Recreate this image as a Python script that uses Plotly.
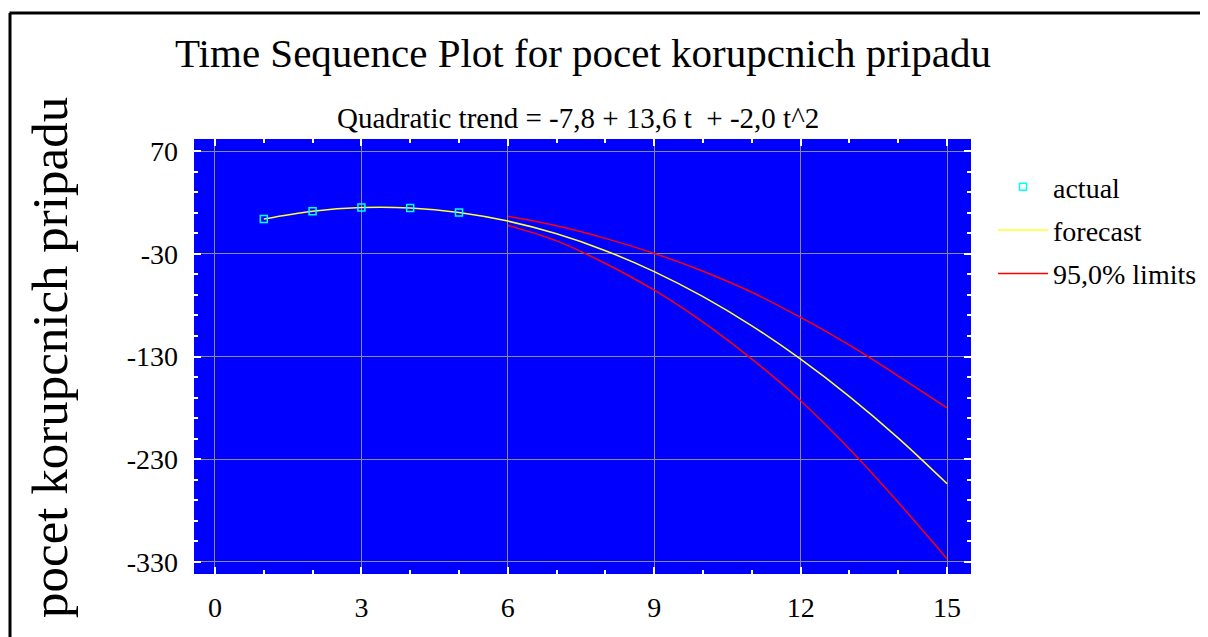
import plotly.graph_objects as go

# Data
t_actual = [1, 2, 3, 4, 5]
actual = [3.8, 11.4, 15.0, 14.6, 10.2]

t_forecast = [1, 2, 3, 4, 5, 6, 7, 8, 9, 10, 11, 12, 13, 14, 15]
forecast = [3.8, 11.4, 15.0, 14.6, 10.2, 1.8, -10.6, -27.0, -47.4, -71.8,
            -100.2, -132.6, -169.0, -209.4, -253.8]

t_limits = [6, 7, 8, 9, 10, 11, 12, 13, 14, 15]
upper = [6.5, -2.8, -15.0, -29.6, -47.0, -67.5, -92.0, -119.0, -149.0, -180.0]
lower = [-2.5, -17.5, -39.5, -65.5, -96.5, -132.5, -173.0, -220.0, -272.0, -327.0]

x_ticks = [0, 3, 6, 9, 12, 15]
y_ticks = [70, -30, -130, -230, -330]

title_text = "Time Sequence Plot for pocet korupcnich pripadu"
subtitle_text = "Quadratic trend = -7,8 + 13,6 t  + -2,0 t^2"
y_title = "pocet korupcnich pripadu"

FONT = "Liberation Serif, Times New Roman, serif"

# page offset (body margin) compensated in margins: plot area at page x 193..970, y 138..573
FW, FH = 1208, 637
L, T, W, H = 186, 131, 777, 435

def px(page_x):
    return (page_x - 193) / W

def py(page_y):
    return (573 - page_y) / H

fig = go.Figure()
fig.add_trace(go.Scatter(x=t_actual, y=actual, mode="markers", name="actual",
                         legendgroup="a", zorder=10,
                         marker=dict(symbol="square-open", size=7, color="#00ffff",
                                     line=dict(width=1.5, color="#00ffff"))))
fig.add_trace(go.Scatter(x=t_forecast, y=forecast, mode="lines", name="forecast",
                         legendgroup="f", zorder=5,
                         line=dict(color="#ffff33", width=1.5, shape="spline")))
fig.add_trace(go.Scatter(x=t_limits, y=upper, mode="lines", name="95,0% limits",
                         legendgroup="lim",
                         line=dict(color="#ff0000", width=1.5, shape="spline")))
fig.add_trace(go.Scatter(x=t_limits, y=lower, mode="lines", name="95,0% limits",
                         legendgroup="lim", showlegend=False,
                         line=dict(color="#ff0000", width=1.5, shape="spline")))

fig.update_layout(
    width=FW, height=FH,
    margin=dict(l=L, r=FW - L - W, t=T, b=FH - T - H, autoexpand=False),
    paper_bgcolor="white", plot_bgcolor="#0000ff",
    font=dict(family=FONT, size=28, color="black"),
    legend=dict(x=px(992), y=py(161), xanchor="left", yanchor="top",
                traceorder="grouped", tracegroupgap=4,
                font=dict(size=28, family=FONT),
                bgcolor="rgba(0,0,0,0)", itemwidth=50),
    showlegend=True,
)

fig.update_xaxes(range=[-0.43, 15.49], tickvals=x_ticks, ticktext=[str(v) for v in x_ticks],
                 showgrid=True, gridcolor="#8a8a9a", gridwidth=1, zeroline=False,
                 ticks="inside", ticklen=7, tickcolor="white", tickwidth=1.5, mirror="ticks",
                 minor=dict(dtick=1, ticks="inside", ticklen=4, tickcolor="white", showgrid=False),
                 showline=False, ticklabelstandoff=14,
                 tickfont=dict(size=28, family=FONT))
fig.update_yaxes(range=[-341.7, 81.7], tickvals=y_ticks, ticktext=[str(v) for v in y_ticks],
                 showgrid=True, gridcolor="#8a8a9a", gridwidth=1, zeroline=False,
                 ticks="inside", ticklen=7, tickcolor="white", tickwidth=1.5, mirror="ticks",
                 minor=dict(tick0=70, dtick=20, ticks="inside", ticklen=4, tickcolor="white", showgrid=False),
                 showline=False, ticklabelstandoff=15,
                 tickfont=dict(size=28, family=FONT))

fig.add_annotation(text=title_text, xref="paper", yref="paper",
                   x=px(582), y=py(52), xanchor="center", yanchor="middle",
                   showarrow=False, font=dict(size=41, family=FONT))
fig.add_annotation(text=subtitle_text, xref="paper", yref="paper",
                   x=px(577), y=py(117), xanchor="center", yanchor="middle",
                   showarrow=False, font=dict(size=29, family=FONT))
fig.add_annotation(text=y_title, xref="paper", yref="paper",
                   x=px(49), y=py(357), xanchor="center", yanchor="middle",
                   textangle=-90, showarrow=False, font=dict(size=51, family=FONT))

# outer frame: top and left edges only
fig.add_shape(type="line", xref="paper", yref="paper",
              x0=px(8.5), x1=px(1230), y0=py(12), y1=py(12),
              line=dict(color="black", width=3), layer="below")
fig.add_shape(type="line", xref="paper", yref="paper",
              x0=px(9), x1=px(9), y0=py(660), y1=py(12),
              line=dict(color="black", width=3), layer="below")

fig.write_html("out.html")
